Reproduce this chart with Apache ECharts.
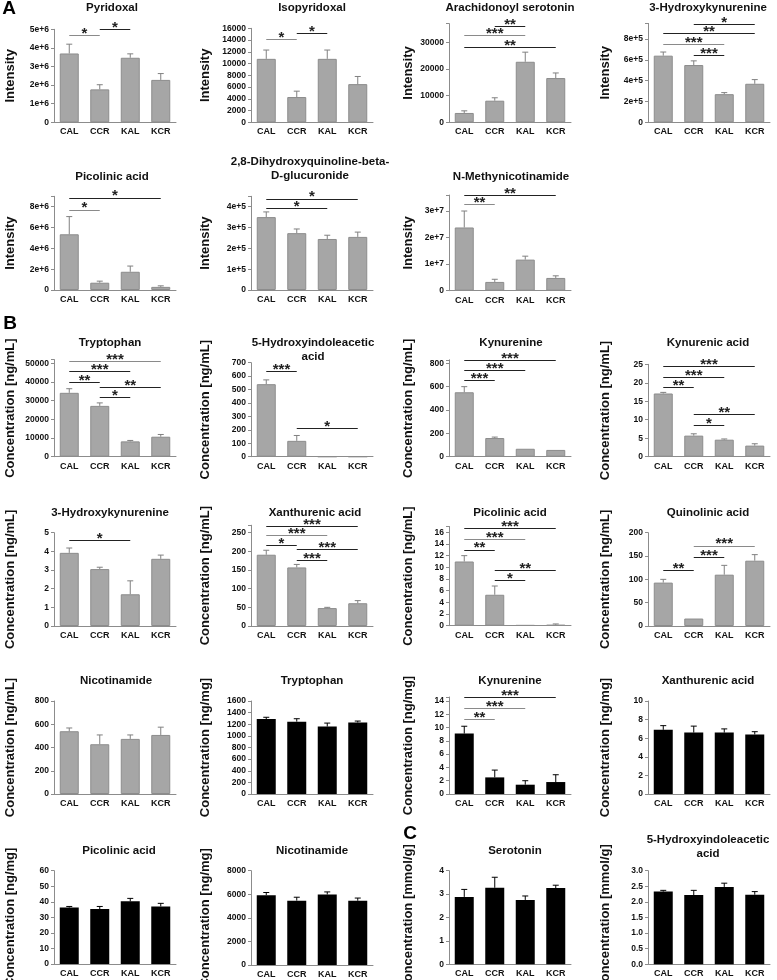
<!DOCTYPE html>
<html>
<head>
<meta charset="utf-8">
<script src="https://cdn.jsdelivr.net/npm/echarts@6/dist/echarts.min.js"></script>
<style>
  html, body { margin: 0; padding: 0; background: #fff; }
  #chart { width: 777px; height: 980px; }
</style>
</head>
<body>
<div id="chart"></div>
<script>
const groups = ['CAL', 'CCR', 'KAL', 'KCR']

// A - metabolomics intensities
const pyridoxal = [3.7e6, 1.77e6, 3.47e6, 2.28e6]
const pyridoxalErr = [0.5e6, 0.25e6, 0.21e6, 0.34e6]
const pyridoxalSig = [['CAL', 'CCR', 4.7e6, '*', 1], ['CCR', 'KAL', 5.0e6, '*', 0]]

const isopyridoxal = [10800, 4300, 10800, 6500]
const isopyridoxalErr = [1500, 1000, 1500, 1300]
const isopyridoxalSig = [['CAL', 'CCR', 14200, '*', 1], ['CCR', 'KAL', 15200, '*', 0]]

const arachSerotonin = [3500, 8100, 22700, 16600]
const arachSerotoninErr = [800, 1100, 3600, 1900]
const arachSerotoninSig = [['CCR', 'KAL', 36100, '**', 0], ['CAL', 'KAL', 32700, '***', 1], ['CAL', 'KCR', 28100, '**', 0]]

const hkIntensity = [6.4e5, 5.5e5, 2.7e5, 3.7e5]
const hkIntensityErr = [0.35e5, 0.4e5, 0.15e5, 0.4e5]
const hkIntensitySig = [['CCR', 'KCR', 9.45e5, '*', 0], ['CAL', 'KCR', 8.56e5, '**', 0], ['CAL', 'KAL', 7.5e5, '***', 1], ['CCR', 'KAL', 6.4e5, '***', 0]]

const picolinicIntensity = [5.35e6, 0.7e6, 1.75e6, 0.3e6]
const picolinicIntensityErr = [1.7e6, 0.15e6, 0.55e6, 0.1e6]
const picolinicIntensitySig = [['CAL', 'KCR', 8.85e6, '*', 0], ['CAL', 'CCR', 7.7e6, '*', 1]]

const dhqGlucuronide = [3.5e5, 2.73e5, 2.45e5, 2.55e5]
const dhqGlucuronideErr = [0.25e5, 0.2e5, 0.18e5, 0.23e5]
const dhqGlucuronideSig = [['CAL', 'KCR', 4.38e5, '*', 0], ['CAL', 'KAL', 3.93e5, '*', 0]]

const methylnicotinamide = [2.38e7, 0.33e7, 1.17e7, 0.48e7]
const methylnicotinamideErr = [0.62e7, 0.1e7, 0.13e7, 0.08e7]
const methylnicotinamideSig = [['CAL', 'KCR', 3.6e7, '**', 0], ['CAL', 'CCR', 3.24e7, '**', 1]]

// B - concentrations (grey: ng/mL, black: ng/mg)
const tryptophan = [34200, 27200, 8200, 10700]
const tryptophanErr = [2200, 1600, 500, 1200]
const tryptophanSig = [['CAL', 'KCR', 51200, '***', 1], ['CAL', 'KAL', 45700, '***', 0], ['CAL', 'CCR', 39800, '**', 0], ['CCR', 'KCR', 37200, '**', 0], ['CCR', 'KAL', 32000, '*', 0]]

const hiaa = [540, 118, 0, 0]
const hiaaErr = [32, 40, 0, 0]
const hiaaSig = [['CAL', 'CCR', 634, '***', 0], ['CCR', 'KCR', 212, '*', 0]]

const kynurenine = [552, 160, 68, 58]
const kynurenineErr = [48, 8, 4, 2]
const kynurenineSig = [['CAL', 'KCR', 829, '***', 0], ['CAL', 'KAL', 743, '***', 0], ['CAL', 'CCR', 652, '***', 0]]

const kynurenicAcid = [17.1, 5.7, 4.6, 3.0]
const kynurenicAcidErr = [0.3, 0.5, 0.2, 0.5]
const kynurenicAcidSig = [['CAL', 'KCR', 24.5, '***', 0], ['CAL', 'KAL', 21.5, '***', 0], ['CAL', 'CCR', 18.8, '**', 0], ['CCR', 'KCR', 11.5, '**', 0], ['CCR', 'KAL', 8.4, '*', 0]]

const hydroxykynurenine = [3.92, 3.05, 1.7, 3.6]
const hydroxykynurenineErr = [0.26, 0.1, 0.72, 0.2]
const hydroxykynurenineSig = [['CAL', 'KAL', 4.57, '*', 0]]

const xanthurenic = [191, 157, 48, 61]
const xanthurenicErr = [12, 8, 2, 7]
const xanthurenicSig = [['CAL', 'KCR', 266, '***', 0], ['CAL', 'KAL', 242, '***', 1], ['CAL', 'CCR', 217, '*', 0], ['CCR', 'KCR', 206, '***', 0], ['CCR', 'KAL', 177, '***', 0]]

const picolinic = [11.0, 5.3, 0.1, 0.15]
const picolinicErr = [1.0, 1.5, 0.05, 0.15]
const picolinicSig = [['CAL', 'KCR', 16.7, '***', 0], ['CAL', 'KAL', 14.8, '***', 1], ['CAL', 'CCR', 13.0, '**', 0], ['CCR', 'KCR', 9.5, '**', 0], ['CCR', 'KAL', 7.8, '*', 0]]

const quinolinic = [93, 16, 110, 140]
const quinolinicErr = [7, 1, 20, 13]
const quinolinicSig = [['CCR', 'KCR', 172, '***', 1], ['CCR', 'KAL', 147, '***', 0], ['CAL', 'CCR', 118.6, '**', 0]]

const nicotinamide = [540, 428, 474, 508]
const nicotinamideErr = [28, 80, 34, 67]

const tryptophanTissue = [1290, 1245, 1160, 1230]
const tryptophanTissueErr = [30, 50, 60, 25]

const kynurenineTissue = [9.1, 2.5, 1.4, 1.8]
const kynurenineTissueErr = [1.1, 1.1, 0.6, 1.1]
const kynurenineTissueSig = [['CAL', 'KCR', 14.5, '***', 0], ['CAL', 'KAL', 12.9, '***', 1], ['CAL', 'CCR', 11.2, '**', 1]]

const xanthurenicTissue = [6.9, 6.6, 6.6, 6.4]
const xanthurenicTissueErr = [0.45, 0.7, 0.4, 0.3]

const picolinicTissue = [36.3, 35.3, 40.3, 37]
const picolinicTissueErr = [0.7, 1.7, 1.9, 2]

const nicotinamideTissue = [5920, 5460, 5980, 5450]
const nicotinamideTissueErr = [230, 290, 220, 230]

// C
const serotonin = [2.88, 3.27, 2.75, 3.26]
const serotoninErr = [0.32, 0.45, 0.17, 0.12]

const hiaaTissue = [2.33, 2.22, 2.48, 2.23]
const hiaaTissueErr = [0.04, 0.15, 0.12, 0.1]

const FONT = '"Liberation Sans", Arial, sans-serif'
const GREY = '#a6a6a6'
const BLACK = '#000'
// column layout: plot left edge and y-name centre
const colLeft = [54, 251, 449, 648]
const nameX = [10, 205, 408, 605]

const panels = [
  {title: 'Pyridoxal', v: pyridoxal, e: pyridoxalErr, sig: pyridoxalSig, zero: 122.3, ref: [5e6, 29.3], max: 5e6, step: 1e6, sci: 6, tx: 112, ty: 8, col: 0, yName: 'Intensity', color: GREY},
  {title: 'Isopyridoxal', v: isopyridoxal, e: isopyridoxalErr, sig: isopyridoxalSig, zero: 122.3, ref: [16000, 28.3], max: 16000, step: 2000, tx: 312, ty: 8, col: 1, yName: 'Intensity', color: GREY},
  {title: 'Arachidonoyl serotonin', v: arachSerotonin, e: arachSerotoninErr, sig: arachSerotoninSig, zero: 122.3, ref: [30000, 42.3], max: 37000, step: 10000, tx: 510, ty: 8, col: 2, yName: 'Intensity', color: GREY},
  {title: '3-Hydroxykynurenine', v: hkIntensity, e: hkIntensityErr, sig: hkIntensitySig, zero: 122.3, ref: [8e5, 39], max: 9.5e5, step: 2e5, sci: 5, tx: 708, ty: 8, col: 3, yName: 'Intensity', color: GREY},

  {title: 'Picolinic acid', v: picolinicIntensity, e: picolinicIntensityErr, sig: picolinicIntensitySig, zero: 290, ref: [8e6, 206.7], max: 9e6, step: 2e6, sci: 6, tx: 112, ty: 177, col: 0, yName: 'Intensity', color: GREY},
  {title: '2,8-Dihydroxyquinoline-beta-\nD-glucuronide', v: dhqGlucuronide, e: dhqGlucuronideErr, sig: dhqGlucuronideSig, zero: 290, ref: [4e5, 206.7], max: 4.5e5, step: 1e5, sci: 5, tx: 310, ty: 169, col: 1, yName: 'Intensity', color: GREY},
  {title: 'N-Methynicotinamide', v: methylnicotinamide, e: methylnicotinamideErr, sig: methylnicotinamideSig, zero: 290.7, ref: [3e7, 211], max: 3.6e7, step: 1e7, sci: 7, tx: 511, ty: 177, col: 2, yName: 'Intensity', color: GREY},

  {title: 'Tryptophan', v: tryptophan, e: tryptophanErr, sig: tryptophanSig, zero: 456.7, ref: [50000, 363.3], max: 52000, step: 10000, tx: 110, ty: 343, col: 0, yName: 'Concentration [ng/mL]', color: GREY},
  {title: '5-Hydroxyindoleacetic\nacid', v: hiaa, e: hiaaErr, sig: hiaaSig, zero: 456.7, ref: [700, 362.7], max: 700, step: 100, tx: 313, ty: 350, col: 1, yName: 'Concentration [ng/mL]', color: GREY},
  {title: 'Kynurenine', v: kynurenine, e: kynurenineErr, sig: kynurenineSig, zero: 456.7, ref: [800, 363.3], max: 830, step: 200, tx: 511, ty: 343, col: 2, yName: 'Concentration [ng/mL]', color: GREY},
  {title: 'Kynurenic acid', v: kynurenicAcid, e: kynurenicAcidErr, sig: kynurenicAcidSig, zero: 456.7, ref: [25, 364.3], max: 25, step: 5, tx: 708, ty: 343, col: 3, yName: 'Concentration [ng/mL]', color: GREY},

  {title: '3-Hydroxykynurenine', v: hydroxykynurenine, e: hydroxykynurenineErr, sig: hydroxykynurenineSig, zero: 626, ref: [5, 532.7], max: 5, step: 1, tx: 110, ty: 513, col: 0, yName: 'Concentration [ng/mL]', color: GREY},
  {title: 'Xanthurenic acid', v: xanthurenic, e: xanthurenicErr, sig: xanthurenicSig, zero: 626, ref: [250, 532.7], max: 270, step: 50, tx: 315, ty: 513, col: 1, yName: 'Concentration [ng/mL]', color: GREY},
  {title: 'Picolinic acid', v: picolinic, e: picolinicErr, sig: picolinicSig, zero: 625.7, ref: [16, 532.3], max: 17, step: 2, tx: 510, ty: 513, col: 2, yName: 'Concentration [ng/mL]', color: GREY},
  {title: 'Quinolinic acid', v: quinolinic, e: quinolinicErr, sig: quinolinicSig, zero: 626, ref: [200, 532.7], max: 200, step: 50, tx: 708, ty: 513, col: 3, yName: 'Concentration [ng/mL]', color: GREY},

  {title: 'Nicotinamide', v: nicotinamide, e: nicotinamideErr, sig: [], zero: 794, ref: [800, 701], max: 800, step: 200, tx: 116, ty: 681, col: 0, yName: 'Concentration [ng/mL]', color: GREY},
  {title: 'Tryptophan', v: tryptophanTissue, e: tryptophanTissueErr, sig: [], zero: 794, ref: [1600, 701], max: 1600, step: 200, tx: 312, ty: 681, col: 1, yName: 'Concentration [ng/mg]', color: BLACK},
  {title: 'Kynurenine', v: kynurenineTissue, e: kynurenineTissueErr, sig: kynurenineTissueSig, zero: 794, ref: [14, 701], max: 14.6, step: 2, tx: 510, ty: 681, col: 2, yName: 'Concentration [ng/mg]', color: BLACK},
  {title: 'Xanthurenic acid', v: xanthurenicTissue, e: xanthurenicTissueErr, sig: [], zero: 794, ref: [10, 701], max: 10, step: 2, tx: 708, ty: 681, col: 3, yName: 'Concentration [ng/mg]', color: BLACK},

  {title: 'Picolinic acid', v: picolinicTissue, e: picolinicTissueErr, sig: [], zero: 964, ref: [60, 870.7], max: 60, step: 10, tx: 119, ty: 851, col: 0, yName: 'Concentration [ng/mg]', color: BLACK},
  {title: 'Nicotinamide', v: nicotinamideTissue, e: nicotinamideTissueErr, sig: [], zero: 965, ref: [8000, 870.7], max: 8000, step: 2000, tx: 312, ty: 851, col: 1, yName: 'Concentration [ng/mg]', color: BLACK},
  {title: 'Serotonin', v: serotonin, e: serotoninErr, sig: [], zero: 964.3, ref: [4, 870.7], max: 4, step: 1, tx: 515, ty: 851, col: 2, yName: 'Concentration [mmol/g]', color: BLACK},
  {title: '5-Hydroxyindoleacetic\nacid', v: hiaaTissue, e: hiaaTissueErr, sig: [], zero: 964.3, ref: [3, 870.7], max: 3, step: 0.5, dec: 1, tx: 708, ty: 847, col: 3, yName: 'Concentration [mmol/g]', color: BLACK}
]

const grid = []
const xAxis = []
const yAxis = []
const series = []
const graphic = []

function tickFormatter(p) {
  return function (v) {
    const k = v / p.step
    if (Math.abs(k - Math.round(k)) > 1e-6) return ''
    if (v === 0) return p.dec ? (0).toFixed(p.dec) : '0'
    if (p.sci) return Math.round(v / Math.pow(10, p.sci)) + 'e+' + p.sci
    if (p.dec) return v.toFixed(p.dec)
    return String(v)
  }
}

panels.forEach((p, i) => {
  const scale = (p.zero - p.ref[1]) / p.ref[0]
  const top = p.zero - p.max * scale
  const left = colLeft[p.col]
  const isGrey = p.color === GREY
  const errColor = isGrey ? '#808080' : '#000'

  grid.push({left: left, top: top, width: 122, height: p.zero - top, containLabel: false, outerBoundsMode: 'none'})

  xAxis.push({
    type: 'category', gridIndex: i, data: groups,
    axisLine: {lineStyle: {color: '#8c8c8c', width: 1}},
    axisTick: {show: false},
    axisLabel: {interval: 0, margin: 5, fontFamily: FONT, fontWeight: 'bold', fontSize: 9, color: '#111'}
  })

  yAxis.push({
    type: 'value', gridIndex: i, min: 0, max: p.max, interval: p.step,
    splitLine: {show: false},
    axisLine: {show: true, lineStyle: {color: '#8c8c8c', width: 1}},
    axisTick: {show: true, length: 3, lineStyle: {color: '#8c8c8c'}},
    axisLabel: {margin: 5, fontFamily: FONT, fontWeight: 'bold', fontSize: 8.5, color: '#111', formatter: tickFormatter(p)},
    name: p.yName, nameLocation: 'middle', nameGap: left - nameX[p.col] - 7,
    nameTextStyle: {fontFamily: FONT, fontWeight: 'bold', fontSize: 13, color: '#111'}
  })

  series.push({
    type: 'bar', xAxisIndex: i, yAxisIndex: i, data: p.v, barWidth: 19,
    itemStyle: {color: p.color, borderColor: isGrey ? '#8c8c8c' : '#000', borderWidth: isGrey ? 1 : 0},
    markLine: {
      silent: true, symbol: 'none', animation: false,
      lineStyle: {type: 'solid', width: 1},
      label: {show: true, position: 'insideMiddleTop', distance: -6, formatter: '{b}',
        fontFamily: FONT, fontWeight: 'bold', fontSize: 15, color: '#222'},
      data: p.sig.map(s => [
        {name: s[3], coord: [s[0], s[2]], lineStyle: {color: s[4] ? '#8a8a8a' : '#222'}},
        {coord: [s[1], s[2]]}
      ])
    }
  })

  series.push({
    type: 'custom', xAxisIndex: i, yAxisIndex: i, z: 3,
    data: p.v.map((m, k) => [k, m, m + p.e[k]]),
    encode: {x: 0, y: [1, 2]},
    renderItem: function (params, api) {
      const k = api.value(0)
      const lo = api.coord([k, api.value(1)])
      const hi = api.coord([k, api.value(2)])
      if (lo[1] - hi[1] < 0.5) return
      return {
        type: 'group',
        children: [
          {type: 'line', shape: {x1: lo[0], y1: lo[1], x2: hi[0], y2: hi[1]}, style: {stroke: errColor, lineWidth: 1}},
          {type: 'line', shape: {x1: hi[0] - 3, y1: hi[1], x2: hi[0] + 3, y2: hi[1]}, style: {stroke: errColor, lineWidth: 1}}
        ]
      }
    }
  })

  graphic.push({
    type: 'text', x: p.tx, y: p.ty,
    style: {text: p.title, align: 'center', verticalAlign: 'middle', lineHeight: 14,
      font: 'bold 11.5px ' + FONT, fill: '#111'}
  })
})

const letters = [['A', 9, 9], ['B', 10, 324], ['C', 410, 834]]
letters.forEach(l => {
  graphic.push({
    type: 'text', x: l[1], y: l[2],
    style: {text: l[0], align: 'center', verticalAlign: 'middle', font: 'bold 19px ' + FONT, fill: '#000'}
  })
})

const chart = echarts.init(document.getElementById('chart'))
chart.setOption({
  animation: false,
  backgroundColor: '#fff',
  grid: grid,
  xAxis: xAxis,
  yAxis: yAxis,
  series: series,
  graphic: graphic
})
</script>
</body>
</html>
